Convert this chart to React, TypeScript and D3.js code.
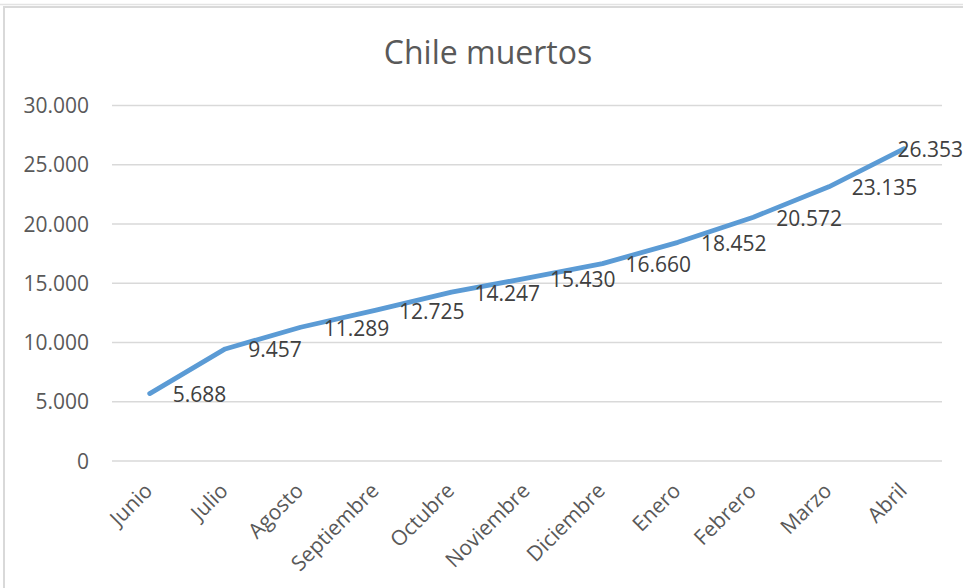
import React from "react";
import * as d3 from "d3";

const months = ["Junio", "Julio", "Agosto", "Septiembre", "Octubre", "Noviembre", "Diciembre", "Enero", "Febrero", "Marzo", "Abril"];
const deaths = [5688, 9457, 11289, 12725, 14247, 15430, 16660, 18452, 20572, 23135, 26353];
const yTicks = [0, 5000, 10000, 15000, 20000, 25000, 30000];
const title = "Chile muertos";

const W = 963;
const H = 588;
const FONT = "'Open Sans', Lato, sans-serif";
const FS = 21;

const fmt = (v: number) => {
  const s = String(v);
  return s.replace(/\B(?=(\d{3})+(?!\d))/g, ".");
};

export default function App() {
  const x = d3.scaleBand<string>().domain(months).range([112, 942]);
  const y = d3.scaleLinear().domain([0, 30000]).range([461, 105.5]);
  const cx = (m: string) => (x(m) as number) + x.bandwidth() / 2;
  const line = d3
    .line<number>()
    .x((_, i) => cx(months[i]))
    .y((d) => y(d));

  return (
    <svg
      width={W}
      height={H}
      style={{ position: "absolute", left: 0, top: 0, background: "#fff" }}
      fontFamily={FONT}
    >
      <line x1={0} x2={W} y1={4.5} y2={4.5} stroke="#E3E3E3" strokeWidth={1.5} />
      <rect x={4} y={7} width={W + 10} height={H + 10} fill="none" stroke="#D9D9D9" strokeWidth={2} />
      <text x={488} y={64} textAnchor="middle" fontSize={32} fill="#595959">
        {title}
      </text>
      {yTicks.map((t) => (
        <g key={t}>
          <line x1={112} x2={942} y1={y(t)} y2={y(t)} stroke="#D9D9D9" strokeWidth={1.3} />
          <text x={89} y={y(t)} dy="0.36em" textAnchor="end" fontSize={FS} fill="#595959">
            {fmt(t)}
          </text>
        </g>
      ))}
      {months.map((m) => (
        <text
          key={m}
          transform={`translate(${cx(m) + 4},${492}) rotate(-45)`}
          textAnchor="end"
          fontSize={FS}
          fill="#595959"
        >
          {m}
        </text>
      ))}
      <path
        d={line(deaths) as string}
        fill="none"
        stroke="#5B9BD5"
        strokeWidth={4.8}
        strokeLinecap="round"
        strokeLinejoin="round"
      />
      {deaths.map((v, i) => {
        const px = cx(months[i]) + 23;
        const overflow = px + 66 > W;
        return (
          <text
            key={i}
            x={overflow ? W : px}
            y={y(v) + 1}
            dy="0.36em"
            textAnchor={overflow ? "end" : "start"}
            fontSize={FS}
            fill="#404040"
          >
            {fmt(v)}
          </text>
        );
      })}
    </svg>
  );
}
